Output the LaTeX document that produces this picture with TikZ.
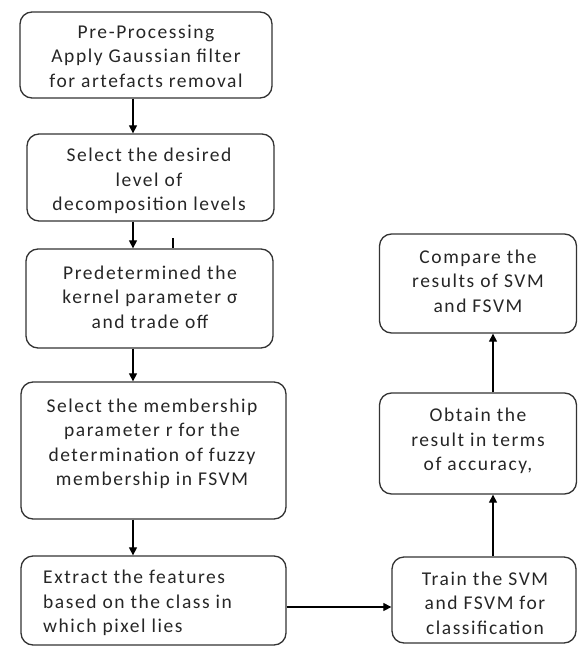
\documentclass[tikz,border=0pt]{standalone}
\usepackage{fontspec}
\setmainfont{Carlito}[LetterSpace=8]
\usetikzlibrary{arrows.meta}
\tikzset{
  box/.style={draw=black!80, line width=1.3pt, rounded corners=12pt, inner sep=0pt},
  txt/.style={align=center, font=\fontsize{19.5}{24.5}\selectfont, text=black!85, inner sep=0pt},
  arr/.style={line width=1.2pt, -{Triangle[length=8pt,width=8pt]}},
  ln/.style={line width=1.2pt}
}
\begin{document}
\begin{tikzpicture}[x=1pt,y=-1pt]
\useasboundingbox (0,0) rectangle (578,650);
% left column boxes
\node[box, minimum width=252pt, minimum height=86pt] (b1) at (146,55) {};
\node[box, minimum width=247pt, minimum height=87pt] (b2) at (150.5,177.5) {};
\node[box, minimum width=247pt, minimum height=99pt] (b3) at (149.5,298.5) {};
\node[box, minimum width=265pt, minimum height=137pt] (b4) at (153.5,450.5) {};
\node[box, minimum width=265pt, minimum height=89pt] (b5) at (153.5,600.5) {};
% right column boxes
\node[box, minimum width=197pt, minimum height=99pt] (cmp) at (478,283.5) {};
\node[box, minimum width=197pt, minimum height=101pt] (obt) at (478,443.5) {};
\node[box, minimum width=184pt, minimum height=86pt] (trn) at (484,600) {};
% texts
\node[txt] (t1) at (146,56) {\fontsize{19.5}{21}\selectfont Pre-Processing\\Apply Gaussian filter\\for artefacts removal};
\node[txt] (t2) at (149,181) {Select the desired\\level of\\decomposition levels};
\node[txt] (t3) at (150,297) {Predetermined the\\kernel parameter σ\\and trade off};
\node[txt] (t4) at (152,444) {Select the membership\\parameter r for the\\determination of fuzzy\\membership in FSVM};
\node[txt, align=left, anchor=west] (t5) at (43,603) {Extract the features\\based on the class in\\which pixel lies};
\node[txt] (t6) at (478,281) {Compare the\\results of SVM\\and FSVM};
\node[txt] (t7) at (478,441) {Obtain the\\result in terms\\of accuracy,};
\node[txt] (t8) at (485,603) {Train the SVM\\and FSVM for\\classification};
% connector positions
\coordinate (lcol) at (133,0);
\coordinate (rcol) at (493,0);
\coordinate (hrow) at (0,607);
\coordinate (stub) at (173,238);
% connectors
\draw[arr] (b1.south -| lcol) -- (b2.north -| lcol);
\draw[arr] (b2.south -| lcol) -- (b3.north -| lcol);
\draw[arr] (b3.south -| lcol) -- (b4.north -| lcol);
\draw[arr] (b4.south -| lcol) -- (b5.north -| lcol);
\draw[ln] (stub) -- (b3.north -| stub);
\draw[arr] (b5.east |- hrow) -- (trn.west |- hrow);
\draw[arr] (trn.north -| rcol) -- (obt.south -| rcol);
\draw[arr] (obt.north -| rcol) -- (cmp.south -| rcol);
\end{tikzpicture}
\end{document}
